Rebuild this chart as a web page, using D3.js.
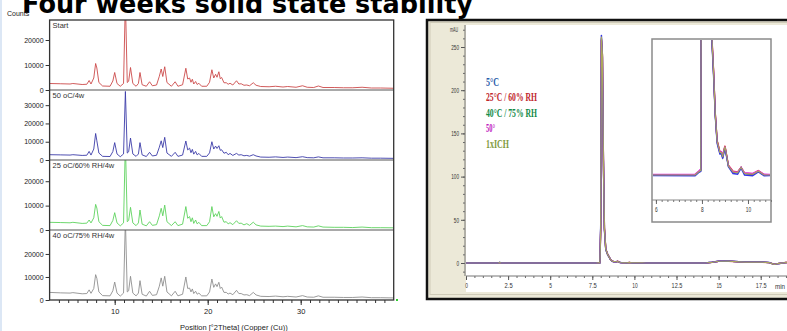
<!DOCTYPE html>
<html>
<head>
<meta charset="utf-8">
<script src="https://cdn.jsdelivr.net/npm/d3@7/dist/d3.min.js"></script>
<style>
  body { margin: 0; background: #fff; }
  svg { display: block; }
</style>
</head>
<body>
<div id="chart"></div>
<script>
const titleText = 'Four weeks solid state stability';

// XRD diffractograms, one counts array per sample, same 2theta grid
const twoTheta = [3.0, 4.2, 5.2, 5.5, 6.5, 7.0, 7.25, 7.45, 7.75, 7.95,
  8.08, 8.3, 8.7, 9.5, 9.8, 10.0, 10.25, 10.6, 10.95, 11.15,
  11.35, 11.5, 11.7, 11.95, 12.3, 12.55, 12.72, 12.95, 13.4, 13.75,
  14.05, 14.5, 14.8, 15.0, 15.17, 15.38, 15.62, 16.1, 16.5, 16.8,
  17.3, 17.65, 17.85, 18.05, 18.2, 18.35, 18.5, 18.7, 18.87, 19.05,
  19.35, 19.9, 20.2, 20.45, 20.65, 20.85, 21.0, 21.2, 21.35, 21.5,
  21.75, 22.0, 22.2, 22.4, 22.7, 23.1, 23.35, 23.6, 23.9, 24.2,
  24.5, 24.9, 25.2, 25.7, 26.6, 27.3, 28.1, 28.6, 29.5, 30.2,
  30.7, 31.4, 31.9, 32.4, 33.6, 34.6, 35.6, 36.6, 37.6, 38.6, 40.0];

const countsStart = [2600, 2500, 2400, 2600, 2200, 2300, 3800, 2400, 4800, 10600,
  8800, 3000, 1600, 1500, 3600, 7000, 2600, 1500, 2600, 36000,
  3000, 3500, 9000, 2600, 1500, 2600, 7000, 2100, 1500, 3300,
  1700, 2000, 5500, 8400, 5400, 9300, 3000, 1500, 3300, 1500,
  2100, 8700, 4400, 4800, 3100, 4300, 2400, 3400, 2200, 2700,
  1500, 1500, 3100, 8100, 4800, 6300, 5100, 7300, 4500, 5000,
  2900, 2900, 2300, 2700, 2000, 3700, 2400, 2500, 1900, 2000,
  1700, 2900, 1900, 1400, 1300, 1500, 1200, 1400, 1100, 1700,
  1100, 1000, 1600, 1000, 1000, 900, 900, 1100, 800, 800, 700];

const counts50C = [2900, 2800, 2700, 2900, 2500, 2600, 4700, 2700, 6000, 14500,
  10500, 3800, 2000, 1900, 4600, 9500, 3300, 1800, 3300, 37500,
  3800, 4500, 12000, 3300, 2000, 3300, 9500, 2800, 1900, 4200,
  2200, 2600, 7000, 10500, 6800, 12400, 3800, 2000, 4200, 2000,
  2700, 10400, 5500, 6500, 4000, 5800, 3200, 4700, 2800, 3600,
  2000, 2000, 3900, 10000, 6000, 7600, 6300, 7800, 5300, 5600,
  3700, 4200, 2900, 3600, 2500, 3600, 2700, 2900, 2300, 2500,
  2100, 2900, 2200, 1600, 1500, 1700, 1400, 1600, 1300, 1800,
  1300, 1200, 1700, 1200, 1200, 1100, 1100, 1200, 1000, 1000, 900];

const counts25C = [3150, 3050, 2950, 3150, 2700, 2800, 4100, 2900, 5000, 10500,
  9000, 3400, 1900, 1800, 3900, 7100, 2900, 1700, 2900, 36000,
  3400, 3900, 9300, 2900, 1800, 2900, 8200, 2400, 1700, 3400,
  1900, 2200, 5800, 8900, 5800, 10200, 3400, 1800, 3400, 1800,
  2400, 9600, 4800, 5500, 3400, 5000, 2700, 4100, 2500, 3150,
  1800, 1800, 3400, 9600, 5400, 6700, 5600, 7600, 4900, 5500,
  3200, 3400, 2500, 3000, 2200, 3800, 2700, 2800, 2100, 2600,
  1900, 3200, 2100, 1600, 1500, 1600, 1400, 1600, 1300, 1800,
  1300, 1200, 1700, 1200, 1100, 1100, 1000, 1200, 950, 950, 900];

const counts40C = [3300, 3100, 3000, 3200, 2700, 2800, 4400, 2900, 5000, 11000,
  9400, 3500, 1900, 1800, 4000, 7800, 3000, 1700, 3000, 35000,
  3500, 4000, 10300, 3000, 1800, 3000, 8400, 2500, 1700, 3800,
  2000, 2300, 6000, 9600, 6000, 10300, 3500, 1800, 3800, 1800,
  2500, 10000, 5000, 5200, 3500, 4800, 2800, 3800, 2500, 3000,
  1800, 1800, 3500, 9100, 5500, 7000, 5800, 7700, 5000, 5600,
  3300, 3300, 2600, 3000, 2300, 4200, 2800, 2800, 2200, 2300,
  1900, 3300, 2200, 1600, 1500, 1700, 1400, 1600, 1300, 1900,
  1300, 1200, 1800, 1200, 1200, 1100, 1100, 1300, 1000, 1000, 900];

const xrdLabels = ['Start', '50 oC/4w', '25 oC/60% RH/4w', '40 oC/75% RH/4w'];
const xrdMax = [28000, 38300, 28700, 30400];
const xrdTicks = [[0, 10000, 20000], [0, 10000, 20000, 30000], [0, 10000, 20000], [0, 10000, 20000]];

// HPLC chromatograms
const chromTime = [0, 1.9, 2.0, 2.1, 7.7, 7.85, 7.95, 8.0, 8.04, 8.1,
  8.16, 8.22, 8.3, 8.42, 8.5, 8.58, 8.66, 8.78, 8.85, 8.9,
  9.0, 9.15, 9.35, 9.55, 9.7, 9.85, 10.2, 10.45, 10.7, 12.0,
  14.2, 14.6, 15.0, 15.6, 16.2, 16.6, 17.6, 18.0, 18.3, 18.6, 19.0, 20.0];
const chrom5C = [0, 0, 0.6, 0, -0.05, 0.15, 0.25, 45, 264, 238,
  118, 38, 15.5, 9.3, 6.8, 3.9, 2.1, 1.4, 1.4, 1.1,
  1.8, 0.55, 0.1, 0.05, 0.45, 0.0, -0.05, 0.2, -0.05, 0,
  0, 0.9, 2.1, 2.3, 1.5, 1.1, 1.1, 0.6, -1.6, -0.6, 0.4, 0.5];
const chrom25C = [0, 0, 0.4, 0, 0.02, 0.2, 0.35, 38, 258, 242,
  121, 41, 16.3, 9.6, 7.1, 4.1, 2.3, 1.55, 1.5, 1.25,
  1.95, 0.65, 0.25, 0.2, 0.5, 0.12, 0.08, 0.3, 0.02, 0,
  0, 0.7, 1.9, 2.1, 1.3, 0.9, 0.9, 0.4, -1.4, -0.4, 0.5, 0.5];
const chrom40C = [0, 0, 0.5, 0, 0, 0.22, 0.3, 42, 260, 241,
  119, 40, 16.1, 9.4, 7.0, 4.0, 2.25, 1.5, 1.45, 1.2,
  1.9, 0.6, 0.2, 0.15, 0.5, 0.1, 0.05, 0.25, 0, 0,
  0, 0.8, 2.0, 2.2, 1.4, 1.0, 1.0, 0.5, -1.5, -0.5, 0.5, 0.5];
const chrom50C = [0, 0, 0.55, 0, 0.05, 0.25, 0.4, 40, 259, 239,
  120, 39, 16, 9.5, 7.05, 4.05, 2.2, 1.5, 1.55, 1.2,
  1.9, 0.62, 0.22, 0.18, 0.52, 0.15, 0.1, 0.28, 0.05, 0,
  0, 0.8, 2.0, 2.2, 1.4, 1.0, 1.0, 0.5, -1.5, -0.5, 0.5, 0.5];
const chromICH = [0, 0, 0.5, 0, 0, 0.2, 0.3, 40, 262, 240,
  120, 40, 16, 9.5, 7, 4, 2.2, 1.5, 1.5, 1.2,
  1.9, 0.6, 0.2, 0.15, 0.5, 0.1, 0.05, 0.25, 0, 0,
  0, 0.8, 2.0, 2.2, 1.4, 1.0, 1.0, 0.5, -1.5, -0.5, 0.5, 0.5];
const chromLabels = ['5°C', '25°C / 60% RH', '40°C / 75% RH', '50°', '1xICH'];
const timeTicks = [0, 2.5, 5, 7.5, 10, 12.5, 15, 17.5];
const insetTicks = [6, 8, 10];

const W = 787, H = 331;
const svg = d3.select('#chart').append('svg')
  .attr('width', W).attr('height', H)
  .style('font-family', '"Liberation Sans", Arial, sans-serif');

svg.append('rect').attr('width', W).attr('height', H).attr('fill', '#fff');
svg.append('rect').attr('width', 2).attr('height', H).attr('fill', '#dce7f5');

svg.append('text')
  .attr('x', 22).attr('y', 13)
  .attr('textLength', 451).attr('lengthAdjust', 'spacingAndGlyphs')
  .style('font-family', '"DejaVu Sans", Verdana, sans-serif')
  .style('font-weight', 'bold').style('font-size', '26px')
  .attr('fill', '#000')
  .text(titleText);

// ---------- left: XRD stack ----------
const xrd = { left: 49.6, right: 393.7, top: 20, bottom: 300 };
const panelH = (xrd.bottom - xrd.top) / 4;
const xrdColors = ['#cc4a4a', '#3b3ba8', '#5ed35e', '#8e8e8e'];
const xrdSeries = [countsStart, counts50C, counts25C, counts40C];

const x = d3.scaleLinear().domain([3, 40]).range([xrd.left, xrd.right]);

svg.append('text').attr('x', 7).attr('y', 16)
  .style('font-size', '7px').attr('fill', '#222').text('Counts');

xrdSeries.forEach((counts, i) => {
  const y0 = xrd.top + panelH * i;
  const y1 = y0 + panelH;
  const y = d3.scaleLinear().domain([0, xrdMax[i]]).range([y1, y0]);

  svg.append('clipPath').attr('id', 'xrdclip' + i)
    .append('rect').attr('x', xrd.left).attr('y', y0)
    .attr('width', xrd.right - xrd.left).attr('height', panelH);

  const line = d3.line().x((d, j) => x(twoTheta[j])).y(d => y(d));
  svg.append('path')
    .datum(counts)
    .attr('clip-path', 'url(#xrdclip' + i + ')')
    .attr('d', line)
    .attr('fill', 'none')
    .attr('stroke', xrdColors[i])
    .attr('stroke-width', 0.9)
    .attr('stroke-linejoin', 'round');

  const ax = svg.append('g')
    .attr('transform', `translate(${xrd.left},0)`)
    .call(d3.axisLeft(y).tickValues(xrdTicks[i]).tickSize(4).tickPadding(2).tickFormat(d3.format('d')));
  ax.select('.domain').remove();
  ax.selectAll('line').attr('stroke', '#333');
  ax.selectAll('text').style('font-size', '7px').attr('fill', '#222')
    .style('font-family', '"Liberation Sans", Arial, sans-serif');

  svg.append('text')
    .attr('x', xrd.left + 3).attr('y', y0 + 8)
    .style('font-size', '7.5px').attr('fill', '#333')
    .text(xrdLabels[i]);

  if (i > 0) {
    svg.append('line')
      .attr('x1', xrd.left).attr('x2', xrd.right)
      .attr('y1', y0).attr('y2', y0)
      .attr('stroke', '#555').attr('stroke-width', 1.2);
  }
});

svg.append('rect')
  .attr('x', xrd.left).attr('y', xrd.top)
  .attr('width', xrd.right - xrd.left).attr('height', xrd.bottom - xrd.top)
  .attr('fill', 'none').attr('stroke', '#333').attr('stroke-width', 1.3);

const xMinor = svg.append('g').attr('transform', `translate(0,${xrd.bottom})`)
  .call(d3.axisBottom(x).tickValues(d3.range(4, 40)).tickSize(3).tickFormat(''));
xMinor.select('.domain').remove();
xMinor.selectAll('line').attr('stroke', '#333');

const xMajor = svg.append('g').attr('transform', `translate(0,${xrd.bottom})`)
  .call(d3.axisBottom(x).tickValues([10, 20, 30]).tickSize(5).tickPadding(4));
xMajor.select('.domain').remove();
xMajor.selectAll('line').attr('stroke', '#333');
xMajor.selectAll('text').style('font-size', '7.5px').attr('fill', '#222')
  .style('font-family', '"Liberation Sans", Arial, sans-serif');

svg.append('text').attr('x', 180).attr('y', 330)
  .style('font-size', '7.5px').attr('fill', '#222')
  .text('Position [°2Theta] (Copper (Cu))');

svg.append('rect').attr('x', 396).attr('y', 299).attr('width', 2).attr('height', 2).attr('fill', '#3c3');

// ---------- right: HPLC overlay ----------
const hp = { left: 466, right: 787, top: 25, axisY: 276 };
svg.append('rect').attr('x', 427).attr('y', 20).attr('width', 400).attr('height', 279)
  .attr('fill', '#ece9d8').attr('stroke', '#111').attr('stroke-width', 2.5);
svg.append('rect').attr('x', 430).attr('y', 22.5).attr('width', 400).attr('height', 272)
  .attr('fill', 'none').attr('stroke', '#cfcbb8').attr('stroke-width', 1);
svg.append('rect').attr('x', hp.left).attr('y', hp.top).attr('width', 340).attr('height', 267)
  .attr('fill', '#fff');

const xt = d3.scaleLinear().domain([0, 20]).range([466, 802.8]);
const ya = d3.scaleLinear().domain([0, 250]).range([263, 47]);

const yMinor = svg.append('g').attr('transform', `translate(${hp.left - 1},0)`)
  .call(d3.axisLeft(ya).tickValues(d3.range(-10, 280, 10)).tickSize(2).tickFormat(''));
yMinor.selectAll('line').attr('stroke', '#666');
yMinor.select('.domain').remove();
const yMajor = svg.append('g').attr('transform', `translate(${hp.left - 1},0)`)
  .call(d3.axisLeft(ya).tickValues(d3.range(0, 251, 50)).tickSize(4).tickPadding(2));
yMajor.select('.domain').remove();
yMajor.selectAll('line').attr('stroke', '#555');
yMajor.selectAll('text').style('font-size', '7px').attr('fill', '#333')
  .attr('textLength', d => String(d).length * 2.6).attr('lengthAdjust', 'spacingAndGlyphs');
svg.append('line').attr('x1', hp.left - 1).attr('x2', hp.left - 1)
  .attr('y1', hp.top).attr('y2', hp.axisY).attr('stroke', '#777');
svg.append('text').attr('x', 458).attr('y', 32).attr('text-anchor', 'end')
  .style('font-size', '7px').attr('fill', '#333')
  .attr('textLength', 8).attr('lengthAdjust', 'spacingAndGlyphs').text('mAU');

const txMinor = svg.append('g').attr('transform', `translate(0,${hp.axisY})`)
  .call(d3.axisBottom(xt).tickValues(d3.range(0, 19.6, 0.5)).tickSize(2).tickFormat(''));
txMinor.select('.domain').remove();
txMinor.selectAll('line').attr('stroke', '#666');
const txMajor = svg.append('g').attr('transform', `translate(0,${hp.axisY})`)
  .call(d3.axisBottom(xt).tickValues(timeTicks).tickSize(4).tickPadding(3).tickFormat(d => String(d)));
txMajor.select('.domain').remove();
txMajor.selectAll('line').attr('stroke', '#555');
txMajor.selectAll('text').style('font-size', '7px').attr('fill', '#333')
  .attr('textLength', d => String(d).length * 2.7).attr('lengthAdjust', 'spacingAndGlyphs');
svg.append('line').attr('x1', hp.left).attr('x2', W)
  .attr('y1', hp.axisY).attr('y2', hp.axisY).attr('stroke', '#777');
svg.append('text').attr('x', 780).attr('y', 289).attr('text-anchor', 'middle')
  .style('font-size', '7px').attr('fill', '#333')
  .attr('textLength', 10).attr('lengthAdjust', 'spacingAndGlyphs').text('min');

svg.append('clipPath').attr('id', 'hpclip')
  .append('rect').attr('x', hp.left).attr('y', hp.top)
  .attr('width', W - hp.left).attr('height', hp.axisY - hp.top - 1);

const chromSeries = [chrom5C, chrom25C, chrom40C, chrom50C, chromICH];
const chromColors = ['#3434e6', '#e02a2a', '#1c7a2c', '#e030e0', '#aba65c'];
const drawOrder = [2, 1, 3, 0, 4];

const mainLine = d3.line().x((d, j) => xt(chromTime[j])).y(d => ya(d));
drawOrder.forEach(k => {
  svg.append('path')
    .datum(chromSeries[k])
    .attr('clip-path', 'url(#hpclip)')
    .attr('d', mainLine)
    .attr('fill', 'none')
    .attr('stroke', chromColors[k])
    .attr('stroke-width', k === 4 ? 1.2 : 1.4);
});

const legendColors = ['#2a5caa', '#c0272d', '#138a48', '#c020c0', '#7f9a3a'];
const legendWidths = [13, 51, 51, 9, 23];
svg.selectAll('.legend').data(chromLabels).enter().append('text')
  .attr('class', 'legend')
  .attr('x', 486).attr('y', (d, i) => 86 + i * 15.4)
  .attr('textLength', (d, i) => legendWidths[i]).attr('lengthAdjust', 'spacingAndGlyphs')
  .style('font-family', '"Liberation Serif", "Times New Roman", serif')
  .style('font-size', '13px').style('font-weight', 'bold')
  .attr('fill', (d, i) => legendColors[i])
  .text(d => d);

// inset zoom on the main peak
const inset = { left: 652, right: 771, top: 39, bottom: 222, axisY: 200 };
svg.append('rect').attr('x', inset.left).attr('y', inset.top)
  .attr('width', inset.right - inset.left).attr('height', inset.bottom - inset.top)
  .attr('fill', '#fff').attr('stroke', '#8a8a8a').attr('stroke-width', 1.5);

const xi = d3.scaleLinear().domain([5.83, 11.0]).range([inset.left, inset.right]);
const yi = d3.scaleLinear().domain([0, 9]).range([175, 40]);

svg.append('clipPath').attr('id', 'insetclip')
  .append('rect').attr('x', inset.left + 1).attr('y', inset.top + 1)
  .attr('width', inset.right - inset.left - 2).attr('height', inset.axisY - inset.top - 2);

const insetLine = d3.line().x((d, j) => xi(chromTime[j])).y(d => yi(d));
drawOrder.forEach(k => {
  svg.append('path')
    .datum(chromSeries[k])
    .attr('clip-path', 'url(#insetclip)')
    .attr('d', insetLine)
    .attr('fill', 'none')
    .attr('stroke', chromColors[k])
    .attr('stroke-width', k === 4 ? 1.1 : 1.4);
});

svg.append('line').attr('x1', inset.left).attr('x2', inset.right)
  .attr('y1', inset.axisY).attr('y2', inset.axisY).attr('stroke', '#888');
const ixMinor = svg.append('g').attr('transform', `translate(0,${inset.axisY})`)
  .call(d3.axisBottom(xi).tickValues(d3.range(6, 11.01, 0.25)).tickSize(2).tickFormat(''));
ixMinor.select('.domain').remove();
ixMinor.selectAll('line').attr('stroke', '#777');
const ixMajor = svg.append('g').attr('transform', `translate(0,${inset.axisY})`)
  .call(d3.axisBottom(xi).tickValues(insetTicks).tickSize(4).tickPadding(3).tickFormat(d => String(d)));
ixMajor.select('.domain').remove();
ixMajor.selectAll('line').attr('stroke', '#666');
ixMajor.selectAll('text').style('font-size', '7px').attr('fill', '#333')
  .attr('textLength', d => String(d).length * 2.7).attr('lengthAdjust', 'spacingAndGlyphs');
</script>
</body>
</html>
